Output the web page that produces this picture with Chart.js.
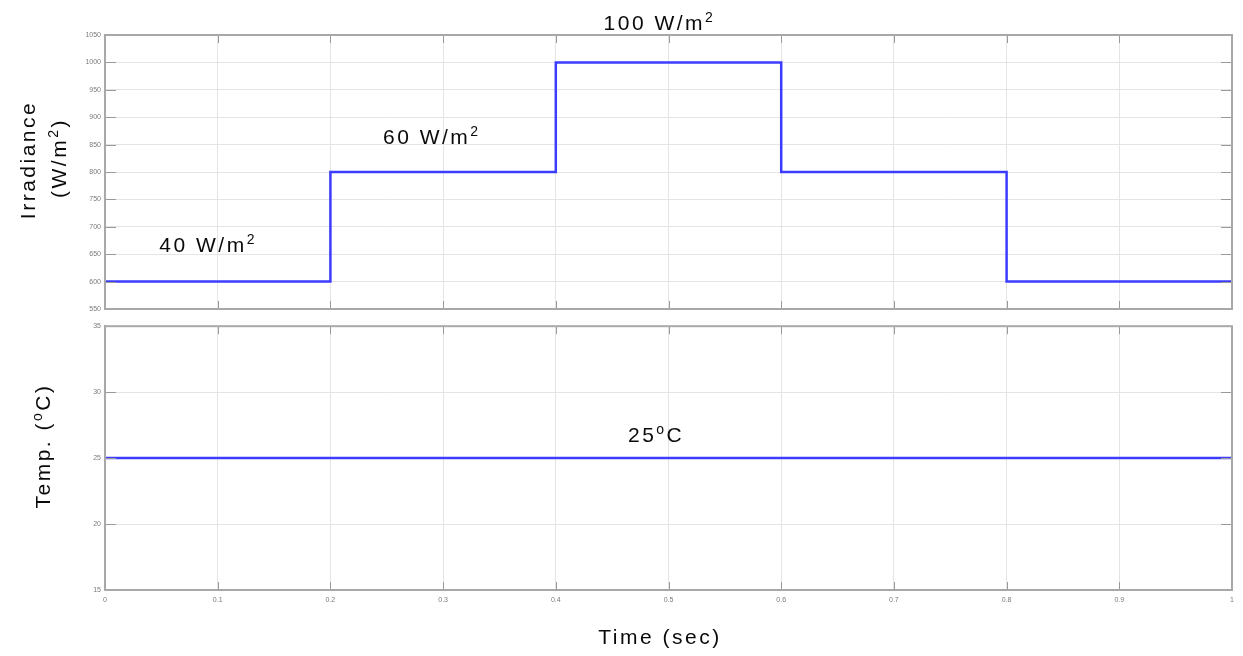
<!DOCTYPE html>
<html>
<head>
<meta charset="utf-8">
<script src="https://cdn.jsdelivr.net/npm/chart.js@4.4.1/dist/chart.umd.min.js"></script>
<style>
  html, body { margin: 0; padding: 0; background: #fff; }
  #wrap { position: relative; width: 1243px; height: 656px; background: #fff; }
  #irrChart { position: absolute; left: 0; top: 0; }
  #tempChart { position: absolute; left: 0; top: 318px; }
</style>
</head>
<body>
<div id="wrap">
  <canvas id="irrChart" width="1243" height="318"></canvas>
  <canvas id="tempChart" width="1243" height="338"></canvas>
</div>
<script>
// step times (sec) and the values that start at each time
const irrTimes = [0, 0.2, 0.4, 0.6, 0.8, 1];
const irrValues = [600, 800, 1000, 800, 600, 600];
const tempTimes = [0, 1];
const tempValues = [25, 25];

const irrTicks = [550, 600, 650, 700, 750, 800, 850, 900, 950, 1000, 1050];
const tempTicks = [15, 20, 25, 30, 35];
const timeTicks = [0, 0.1, 0.2, 0.3, 0.4, 0.5, 0.6, 0.7, 0.8, 0.9, 1];

const LINE = '#3c3cff';
const FONT = '"Liberation Sans", Arial, sans-serif';

function pts(xs, ys) {
  return xs.map((x, i) => ({ x: x, y: ys[i] }));
}

// text with optional superscript pieces, centred on (x, y)
function richText(ctx, parts, x, y, rot) {
  ctx.save();
  ctx.translate(x, y);
  if (rot) ctx.rotate(rot);
  ctx.fillStyle = '#0a0a0a';
  ctx.textBaseline = 'alphabetic';
  ctx.textAlign = 'left';
  ctx.letterSpacing = '2.5px';
  let total = 0;
  const sizes = parts.map(p => {
    ctx.font = (p.sup ? 14 : 21) + 'px ' + FONT;
    const w = ctx.measureText(p.t).width;
    total += w;
    return w;
  });
  let cx = -total / 2;
  parts.forEach((p, i) => {
    ctx.font = (p.sup ? 14 : 21) + 'px ' + FONT;
    ctx.fillText(p.t, cx, p.sup ? -8 : 0);
    cx += sizes[i];
  });
  ctx.restore();
}

// box and inward tick marks like a scope plot
const framePlugin = {
  id: 'frame',
  afterDraw(chart) {
    const ctx = chart.ctx;
    const a = chart.chartArea;
    const xs = chart.scales.x, ys = chart.scales.y;
    ctx.save();
    ctx.strokeStyle = '#9a9a9a';
    ctx.lineWidth = 1;
    ctx.beginPath();
    ys.ticks.forEach(t => {
      const py = Math.round(ys.getPixelForValue(t.value)) + 0.5;
      ctx.moveTo(a.left, py); ctx.lineTo(a.left + 11, py);
      ctx.moveTo(a.right, py); ctx.lineTo(a.right - 11, py);
    });
    xs.ticks.forEach(t => {
      const px = Math.round(xs.getPixelForValue(t.value)) + 0.5;
      ctx.moveTo(px, a.bottom); ctx.lineTo(px, a.bottom - 8);
      ctx.moveTo(px, a.top); ctx.lineTo(px, a.top + 8);
    });
    ctx.stroke();
    ctx.strokeStyle = '#a8a8a8';
    ctx.lineWidth = 2;
    ctx.strokeRect(a.left, a.top, a.right - a.left, a.bottom - a.top);
    ctx.restore();
    const notes = chart.options.plugins.frame.notes || [];
    notes.forEach(n => {
      richText(ctx, n.parts, xs.getPixelForValue(n.x), ys.getPixelForValue(n.y));
    });
    const titles = chart.options.plugins.frame.titles || [];
    titles.forEach(n => richText(ctx, n.parts, n.px, n.py, n.rot));
  }
};

function baseScales(yMin, yMax, yStep, showX) {
  return {
    x: {
      type: 'linear', min: 0, max: 1,
      afterBuildTicks: s => { s.ticks = timeTicks.map(v => ({ value: v })); },
      ticks: {
        display: showX, color: '#7a7a7a', font: { size: 7, family: FONT }, padding: 6,
        maxRotation: 0, autoSkip: false,
        callback: v => (v === 0 || v === 1) ? String(v) : v.toFixed(1)
      },
      grid: { color: '#e4e4e4', lineWidth: 1, drawTicks: false },
      border: { display: true, color: '#a8a8a8', width: 2 },
      afterFit: s => { s.height = showX ? 18 : 0; }
    },
    y: {
      type: 'linear', min: yMin, max: yMax,
      ticks: {
        stepSize: yStep, color: '#7a7a7a', font: { size: 7, family: FONT }, padding: 4,
        callback: v => String(v)
      },
      grid: { color: '#e4e4e4', lineWidth: 1, drawTicks: false },
      border: { display: true, color: '#a8a8a8', width: 2 },
      afterFit: s => { s.width = 105; }
    }
  };
}

new Chart(document.getElementById('irrChart'), {
  type: 'line',
  data: {
    datasets: [{
      data: pts(irrTimes, irrValues),
      stepped: true,
      borderColor: LINE, borderWidth: 2.5,
      pointRadius: 0, fill: false
    }]
  },
  options: {
    responsive: false, animation: false,
    layout: { padding: { top: 35, right: 11, bottom: 9, left: 0 } },
    scales: baseScales(irrTicks[0], irrTicks[irrTicks.length - 1], 50, false),
    plugins: {
      legend: { display: false }, tooltip: { enabled: false },
      frame: {
        notes: [
          { x: 0.0915, y: 654, parts: [{ t: '40 W/m' }, { t: '2', sup: true }] },
          { x: 0.29, y: 852, parts: [{ t: '60 W/m' }, { t: '2', sup: true }] },
          { x: 0.492, y: 1059, parts: [{ t: '100 W/m' }, { t: '2', sup: true }] }
        ],
        titles: [
          { px: 35, py: 160, rot: -Math.PI / 2, parts: [{ t: 'Irradiance' }] },
          { px: 66, py: 158, rot: -Math.PI / 2, parts: [{ t: '(W/m' }, { t: '2', sup: true }, { t: ')' }] }
        ]
      }
    }
  },
  plugins: [framePlugin]
});

new Chart(document.getElementById('tempChart'), {
  type: 'line',
  data: {
    datasets: [{
      data: pts(tempTimes, tempValues),
      borderColor: LINE, borderWidth: 2.5,
      pointRadius: 0, fill: false
    }]
  },
  options: {
    responsive: false, animation: false,
    layout: { padding: { top: 7, right: 11, bottom: 48, left: 0 } },
    scales: baseScales(tempTicks[0], tempTicks[tempTicks.length - 1], 5, true),
    plugins: {
      legend: { display: false }, tooltip: { enabled: false },
      frame: {
        notes: [
          { x: 0.489, y: 26.25, parts: [{ t: '25' }, { t: 'o', sup: true }, { t: 'C' }] }
        ],
        titles: [
          { px: 50, py: 128, rot: -Math.PI / 2, parts: [{ t: 'Temp. (' }, { t: 'o', sup: true }, { t: 'C)' }] },
          { px: 660, py: 326, parts: [{ t: 'Time (sec)' }] }
        ]
      }
    }
  },
  plugins: [framePlugin]
});
</script>
</body>
</html>
